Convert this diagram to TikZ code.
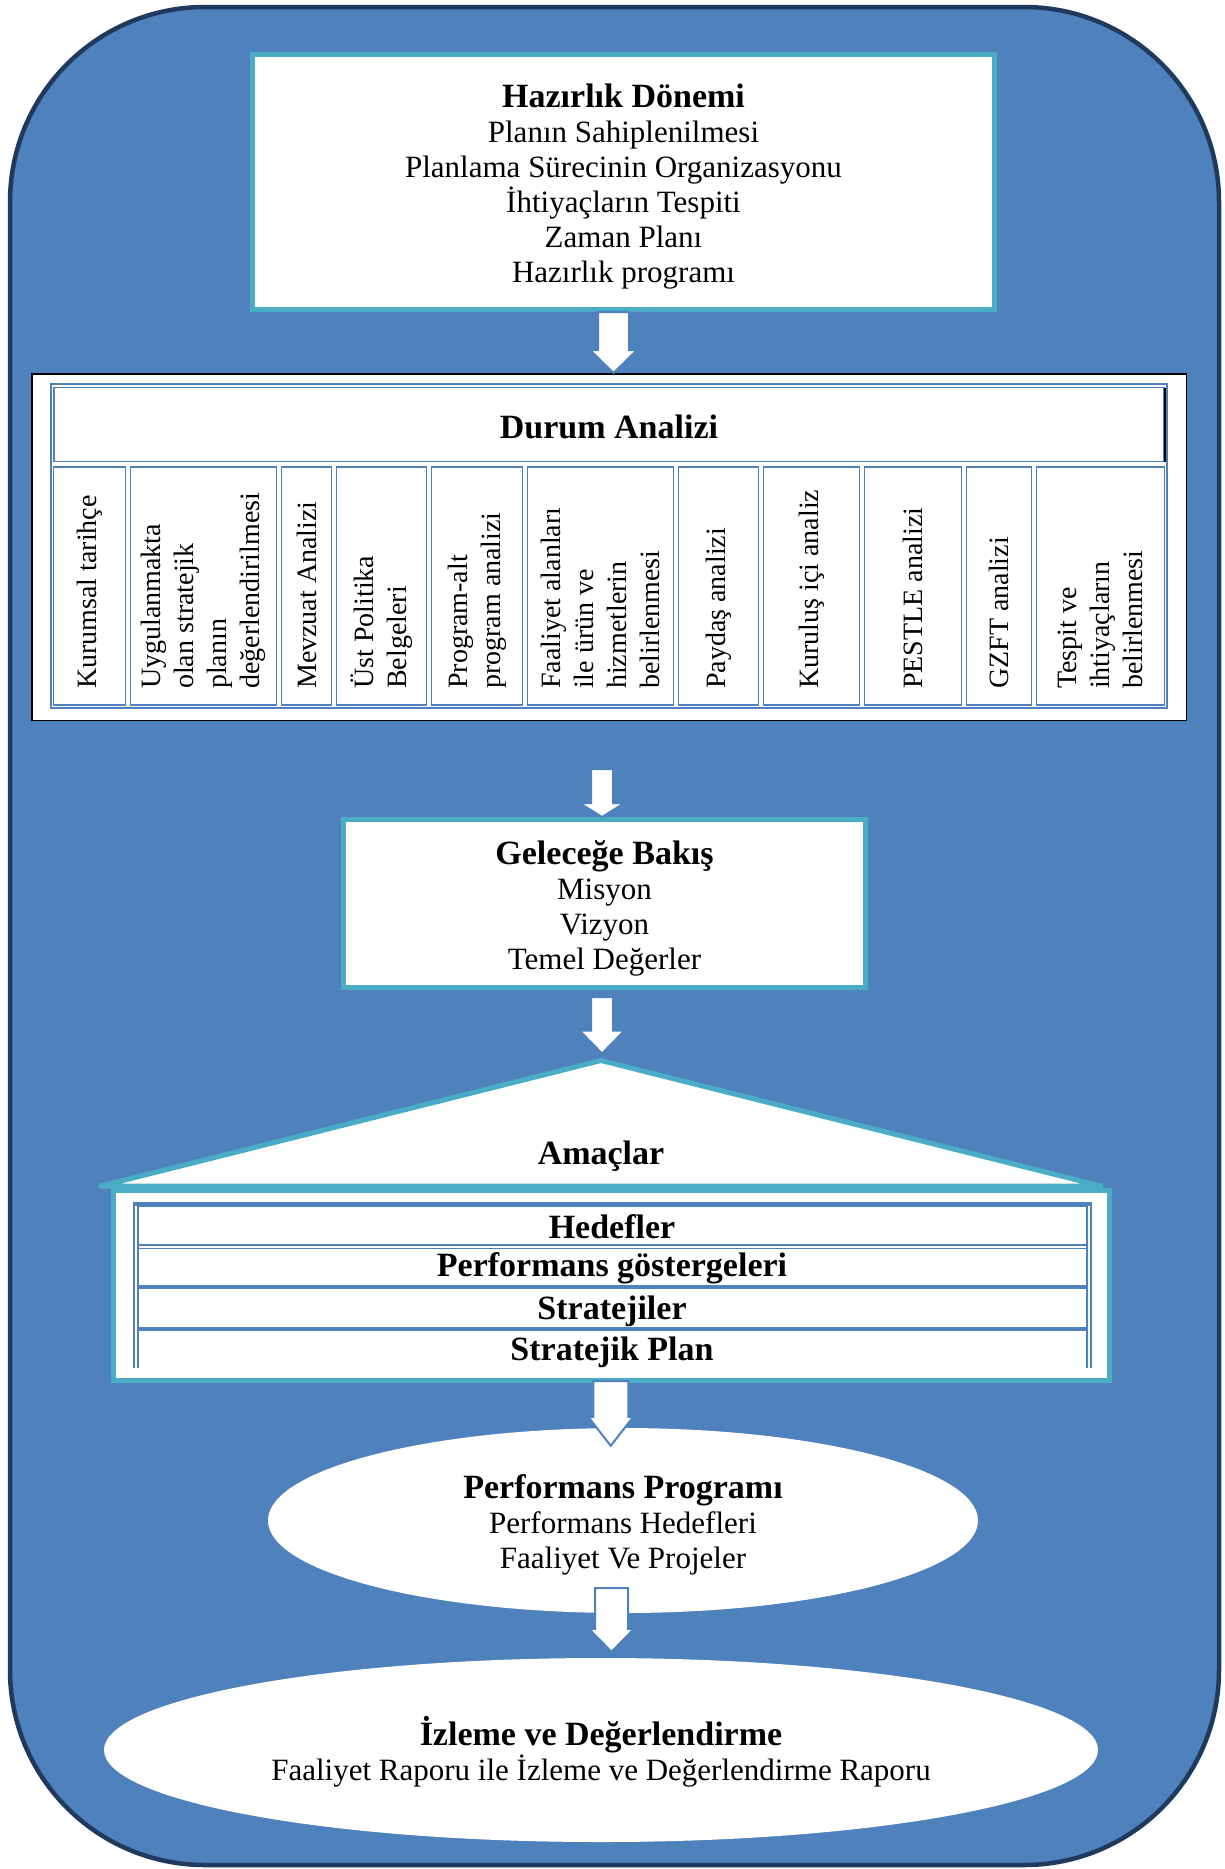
\documentclass[tikz,border=0pt]{standalone}
\usepackage{fontspec}
\setmainfont{Liberation Serif}
\usetikzlibrary{calc,shapes.geometric}
\definecolor{frameblue}{HTML}{4F81BD}
\definecolor{framedark}{HTML}{1F3A5D}
\definecolor{boxteal}{HTML}{4BACC6}
\newcommand{\bodyfont}{\fontsize{31}{35}\selectfont}
\newcommand{\headfont}{\bfseries\fontsize{34}{35}\selectfont}
\newcommand{\colfont}{\fontsize{28}{33}\selectfont}
\newcommand{\toppad}{\rule{0pt}{33pt}}
\tikzset{
  tealbox/.style={draw=boxteal,line width=5pt,fill=white,align=center,font=\bodyfont,inner sep=0pt},
  cellline/.style={draw=frameblue,line width=1.5pt},
  coltext/.style={rotate=90,anchor=west,align=left,font=\colfont,inner sep=0pt},
  rowtext/.style={font=\headfont,inner sep=0pt},
  ovalbox/.style={ellipse,fill=white,align=center,font=\bodyfont,inner sep=0pt},
  blockarrow/.style n args={3}{fill=white,draw=frameblue,line width=2pt,
    to path={let \p1=(\tikztostart),\p2=(\tikztotarget) in
      (\x1-#1,\y1) -- (\x1+#1,\y1) -- (\x1+#1,\y2+#3) -- (\x1+#2,\y2+#3) -- (\x1,\y2)
      -- (\x1-#2,\y2+#3) -- (\x1-#1,\y2+#3) -- cycle}}
}
\begin{document}
\begin{tikzpicture}[x=1pt,y=-1pt]
\useasboundingbox (0,0) rectangle (1224,1869);
\draw[framedark,fill=frameblue,line width=4.5pt,rounded corners=195pt] (10,7) rectangle (1219,1865);
\node[tealbox,minimum width=742pt,minimum height=255pt] (hazirlik) at (623.5,182) {{\headfont\toppad Hazırlık Dönemi}\\Planın Sahiplenilmesi\\Planlama Sürecinin Organizasyonu\\İhtiyaçların Tespiti\\Zaman Planı\\Hazırlık programı};
\node[draw=black,line width=1.5pt,fill=white,minimum width=1154.5pt,minimum height=346.5pt,inner sep=0pt] (durum) at (609,547) {};
\draw[cellline] (51,384) rectangle (1167,708);
\draw[cellline] (54,387.5) rectangle (1164,461.5);
\draw[black,line width=2pt] (1165,387.5) -- (1165,461.5);
\node[font=\headfont] (durumbaslik) at (609,427) {Durum Analizi};
\foreach \i/\xa/\xb/\txt in {1/51/128/{Kurumsal tarihçe},2/128/279/{Uygulanmakta\\olan stratejik\\planın\\değerlendirilmesi},3/279/334/{Mevzuat Analizi},4/334/429/{Üst Politika\\Belgeleri},5/429/525/{Program-alt\\program analizi},6/525/676/{Faaliyet alanları\\ile ürün ve\\hizmetlerin\\belirlenmesi},7/676/761/{Paydaş analizi},8/761/862/{Kuruluş içi analiz},9/862/964/{PESTLE analizi},10/964/1034/{GZFT analizi},11/1034/1167/{Tespit ve\\ihtiyaçların\\belirlenmesi}}{
  \draw[cellline] (\xa+2.5,467) rectangle (\xb-2.5,705);
  \node[coltext] (kolon\i) at ({(\xa+\xb)/2},689) {\txt};
}
\node[tealbox,minimum width=522pt,minimum height=168pt] (gelecek) at (604.5,903.5) {{\headfont\toppad Geleceğe Bakış}\\Misyon\\Vizyon\\Temel Değerler};
\node[tealbox,minimum width=995.5pt,minimum height=190pt] (hedefkutu) at (611.25,1285.5) {};
\coordinate (tepe) at (601,1060.5);
\draw[boxteal,fill=white,line width=5pt,line join=round,line cap=round] (101,1186) -- (tepe) -- (1101,1186) -- cycle;
\node[font=\headfont] (amaclar) at (601,1156) {Amaçlar};
\draw[cellline] (134,1368) -- (134,1203) -- (1091,1203) -- (1091,1368);
\draw[cellline] (138,1368) -- (138,1206) -- (1087,1206) -- (1087,1368);
\draw[cellline,line width=3.5pt] (134,1204) -- (1091,1204);
\draw[cellline] (138,1245) -- (1087,1245);
\draw[cellline] (138,1248.5) -- (1087,1248.5);
\draw[cellline,line width=3.5pt] (138,1287) -- (1087,1287);
\draw[cellline,line width=3.5pt] (138,1329) -- (1087,1329);
\foreach \j/\yy/\txt in {1/1227/Hedefler,2/1268/{Performans göstergeleri},3/1311/Stratejiler,4/1352/{Stratejik Plan}}{
  \node[rowtext] (satir\j) at (612,\yy) {\txt};
}
\node[ovalbox,minimum width=710pt,minimum height=185pt] (perf) at (623,1520.5) {{\headfont\toppad Performans Programı}\\Performans Hedefleri\\Faaliyet Ve Projeler};
\node[ovalbox,minimum width=994pt,minimum height=184pt] (izleme) at (601,1750) {{\headfont\toppad İzleme ve Değerlendirme}\\Faaliyet Raporu ile İzleme ve Değerlendirme Raporu};
\draw[blockarrow={15.5pt}{23.5pt}{23pt}] ($(hazirlik.south)+(-10,0)$) to (durum.north);
\coordinate (ok2) at ($(durum.south)+(-7,48)$);
\draw[blockarrow={11pt}{22.5pt}{14pt}] (ok2) to (gelecek.north);
\draw[blockarrow={11pt}{22.5pt}{23pt}] ($(gelecek.south)+(-2.5,7)$) to ($(tepe)+(0,-7)$);
\draw[blockarrow={17.5pt}{22.5pt}{29pt}] ($(hedefkutu.south)+(-0.5,-2)$) to ($(perf.north)+(0,18)$);
\draw[blockarrow={16.5pt}{22.5pt}{23pt}] ($(perf.south)+(-11.5,-25)$) to ($(izleme.north)+(0,-6)$);
\end{tikzpicture}
\end{document}
